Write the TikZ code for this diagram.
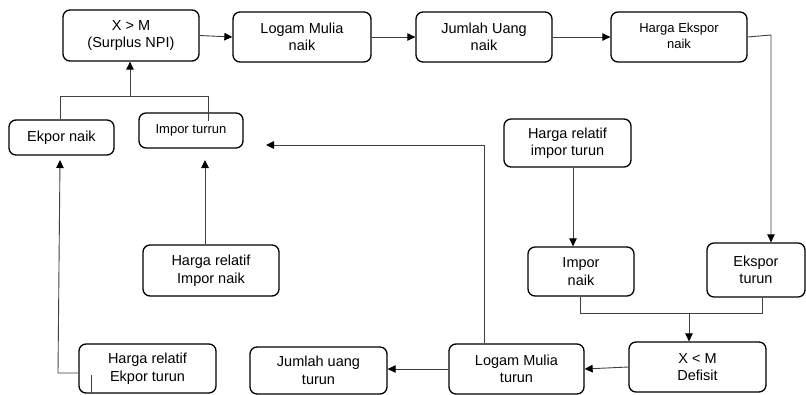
\documentclass[tikz,border=0pt]{standalone}
\usepackage{fontspec}
\setmainfont{Liberation Sans}
\usetikzlibrary{arrows.meta}
\tikzset{
  box/.style={draw=black, line width=1.3pt, rounded corners=7pt, align=center, inner sep=0pt,
    font=\fontsize{14.5}{17.5}\selectfont},
  smallbox/.style={box, font=\fontsize{13}{16}\selectfont},
  conn/.style={draw=black!75, line width=0.9pt},
  arr/.style={conn, -{Triangle[length=8pt,width=7.5pt,color=black]}}
}
\begin{document}
\begin{tikzpicture}[x=1pt,y=-1pt]
\useasboundingbox[fill=white] (0,0) rectangle (806,394);
% top row
\node[box, minimum width=136, minimum height=51] (n1) at (131,35.5) {X > M\\(Surplus NPI)};
\node[box, minimum width=138, minimum height=50] (n2) at (302,37) {Logam Mulia\\naik};
\node[box, minimum width=136, minimum height=50] (n3) at (484,37) {Jumlah Uang\\naik};
\node[smallbox, minimum width=136, minimum height=50] (n4) at (679,37)
  {\raisebox{2.5pt}{\begin{tabular}{@{}c@{}}Harga Ekspor\\naik\end{tabular}}};
% middle
\node[box, minimum width=105, minimum height=35] (n5) at (61.5,137.5) {Ekpor naik};
\node[smallbox, minimum width=104, minimum height=35] (n6) at (191,130.5) {Impor turrun};
\node[box, minimum width=127, minimum height=48] (n7) at (567.5,143) {Harga relatif\\impor turun};
\node[box, minimum width=136, minimum height=51] (n8) at (211,270.5) {Harga relatif\\Impor naik};
\node[box, minimum width=106, minimum height=49] (n9) at (581,271.5) {Impor\\naik};
\node[box, minimum width=98, minimum height=54] (n10) at (756,270) {Ekspor\\turun};
% bottom row
\node[box, minimum width=137, minimum height=49] (n11) at (147.5,368.5) {Harga relatif\\Ekpor turun};
\node[box, minimum width=137, minimum height=47] (n12) at (318.5,370.5) {Jumlah uang\\turun};
\node[box, minimum width=135, minimum height=50] (n13) at (516.5,369) {Logam Mulia\\turun};
\node[box, minimum width=137, minimum height=50] (n14) at (697.5,367) {X < M\\Defisit};
% top chain
\draw[arr] (n1.east) -- (n2.west);
\draw[arr] (n2.east) -- (n3.west);
\draw[arr] (n3.east) -- (n4.west);
\coordinate (r1) at (771,35);
\draw[arr] (n4.east) -- (r1) -- (r1 |- n10.north);
% harga relatif impor turun -> impor naik
\coordinate (m1) at (573,167);
\draw[arr] (n7.south -| m1) -- (m1 |- n9.north);
% impor naik & ekspor turun -> X<M
\coordinate (j1) at (580,313);
\coordinate (j2) at (689,313);
\coordinate (j3) at (762,313);
\draw[conn] (n9.south -| j1) -- (j1) -- (j3) -- (j3 |- n10.south);
\draw[arr] (j2) -- (j2 |- n14.north);
% bottom chain
\draw[arr] (n14.west) -- (n13.east);
\draw[arr] (n13.west) -- (n13.west -| n12.east);
% logam mulia turun -> impor turrun
\coordinate (u1) at (484,145);
\coordinate (u2) at (266,145);
\draw[arr] (n13.north -| u1) -- (u1) -- (u2);
% harga relatif impor naik -> impor turrun
\coordinate (v1) at (205,160);
\draw[arr] (n8.north -| v1) -- (v1);
% harga relatif ekpor turun -> ekpor naik
\coordinate (e1) at (58,373);
\coordinate (e2) at (60,160);
\draw[arr] (n11.west |- e1) -- (e1) -- (e2);
\draw[conn] (91,375) -- (91,394);
% ekpor naik & impor turrun -> X>M
\coordinate (b1) at (60,96);
\coordinate (b2) at (208,96);
\coordinate (b3) at (130,96);
\draw[conn] (n5.north -| b1) -- (b1) -- (b2) -- (208,121);
\draw[arr] (b3) -- (b3 |- n1.south);
\end{tikzpicture}
\end{document}
